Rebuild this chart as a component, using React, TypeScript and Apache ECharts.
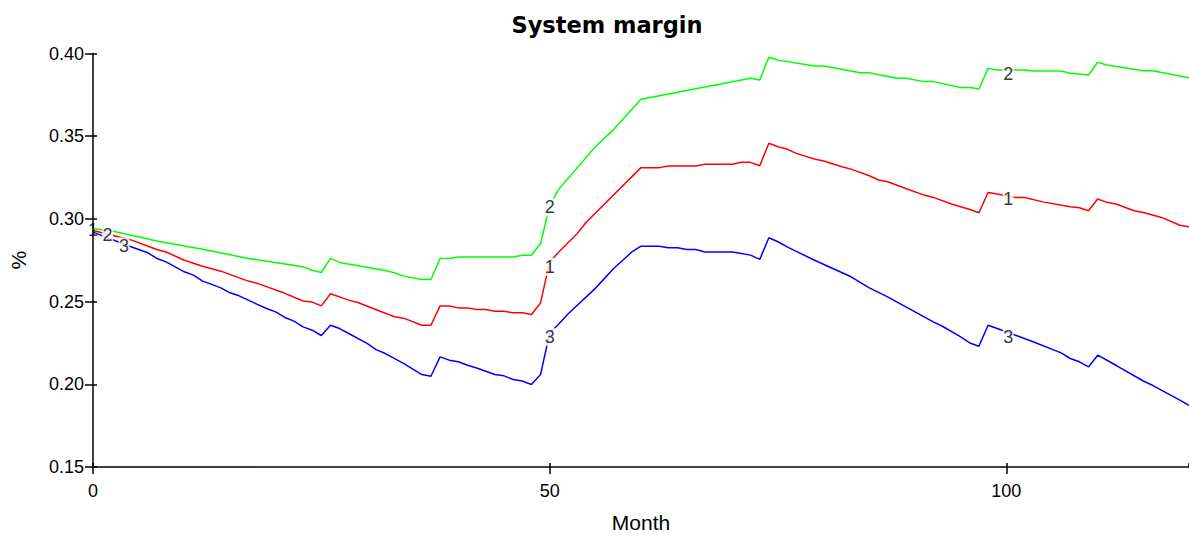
import React, { useEffect, useRef } from "react";
import * as echarts from "echarts";

// Series 1 (red): [month, value]
const series1: [number, number][] = [
  [0, 0.293], [4, 0.2876], [7, 0.2815], [8, 0.28], [10, 0.275], [12, 0.2714], [14, 0.2684],
  [17, 0.2624], [18, 0.261], [21, 0.255], [23, 0.2504], [24, 0.2497], [25, 0.2474], [26, 0.2547],
  [28, 0.2509], [29, 0.2495], [32, 0.243], [33, 0.2408], [34, 0.24], [36, 0.2357], [37, 0.2357],
  [38, 0.2474], [39, 0.2474], [40, 0.2462], [41, 0.2462], [42, 0.2452], [43, 0.2452], [44, 0.2442],
  [45, 0.2442], [46, 0.2432], [47, 0.2432], [48, 0.2422], [49, 0.2492], [50, 0.274], [51, 0.28],
  [53, 0.291], [54, 0.298], [60, 0.331], [62, 0.331], [63, 0.332], [66, 0.332], [67, 0.333],
  [70, 0.333], [71, 0.3342], [72, 0.3342], [73, 0.3321], [74, 0.3457], [75, 0.3436], [76, 0.3422],
  [77, 0.3396], [79, 0.3362], [80, 0.335], [82, 0.3315], [83, 0.3301], [85, 0.3261], [86, 0.3235],
  [87, 0.3225], [89, 0.3184], [91, 0.3144], [92, 0.313], [94, 0.309], [96, 0.3057], [97, 0.3037],
  [98, 0.316], [99, 0.315], [101, 0.313], [102, 0.313], [104, 0.3103], [107, 0.3073], [108, 0.3067],
  [109, 0.3049], [110, 0.312], [111, 0.31], [112, 0.309], [114, 0.3049], [115, 0.3039], [117, 0.3009],
  [119, 0.2962], [120, 0.2952],
];

// Series 2 (green)
const series2: [number, number][] = [
  [0, 0.294], [2, 0.2928], [7, 0.2867], [12, 0.2817], [17, 0.2761], [23, 0.271], [24, 0.269],
  [25, 0.2676], [26, 0.2761], [27, 0.2737], [32, 0.2688], [33, 0.2674], [34, 0.2654], [36, 0.2634],
  [37, 0.2634], [38, 0.2761], [39, 0.2761], [40, 0.277], [46, 0.277], [47, 0.278], [48, 0.278],
  [49, 0.285], [50, 0.308], [51, 0.318], [55, 0.3436], [57, 0.354], [60, 0.3723], [72, 0.385],
  [73, 0.384], [74, 0.3977], [75, 0.396], [79, 0.3924], [80, 0.3924], [84, 0.3884], [85, 0.3884],
  [88, 0.385], [89, 0.385], [91, 0.383], [92, 0.383], [95, 0.3795], [96, 0.3795], [97, 0.3785],
  [98, 0.391], [99, 0.39], [101, 0.39], [102, 0.39], [103, 0.3894], [106, 0.3894], [107, 0.388],
  [109, 0.387], [110, 0.3947], [111, 0.393], [115, 0.3896], [116, 0.3896], [120, 0.3854],
];

// Series 3 (blue)
const series3: [number, number][] = [
  [0, 0.292], [4, 0.2835], [6, 0.2795], [7, 0.2761], [8, 0.274], [10, 0.268], [11, 0.266],
  [12, 0.2624], [13, 0.2604], [14, 0.2583], [15, 0.2553], [16, 0.2535], [17, 0.2509], [18, 0.2483],
  [19, 0.2458], [20, 0.2438], [21, 0.2404], [22, 0.2382], [23, 0.2347], [24, 0.2327], [25, 0.2295],
  [26, 0.2357], [27, 0.2337], [28, 0.2307], [30, 0.2247], [31, 0.221], [32, 0.2186], [34, 0.2126],
  [36, 0.2059], [37, 0.2049], [38, 0.2166], [39, 0.2146], [40, 0.2136], [41, 0.2115], [42, 0.2099],
  [43, 0.2079], [44, 0.2059], [45, 0.2051], [46, 0.2029], [47, 0.202], [48, 0.1999], [49, 0.2059],
  [50, 0.231], [51, 0.2365], [52, 0.2425], [55, 0.258], [57, 0.27], [58, 0.275], [59, 0.28],
  [60, 0.2835], [62, 0.2835], [63, 0.2825], [64, 0.2825], [65, 0.2815], [66, 0.2815], [67, 0.28],
  [70, 0.28], [71, 0.2791], [72, 0.2781], [73, 0.2755], [74, 0.2886], [75, 0.2862], [76, 0.2831],
  [79, 0.275], [81, 0.27], [83, 0.265], [85, 0.2583], [87, 0.2529], [89, 0.2468], [90, 0.2438],
  [92, 0.2377], [93, 0.2351], [95, 0.2287], [96, 0.225], [97, 0.223], [98, 0.2357], [99, 0.2337],
  [101, 0.2297], [103, 0.2256], [106, 0.219], [107, 0.2156], [108, 0.2136], [109, 0.2105],
  [110, 0.2176], [112, 0.2115], [115, 0.202], [116, 0.1994], [119, 0.1904], [120, 0.1873],
];

// Inline line labels: [month, value, text]
const lineLabels: [number, number, string][] = [
  [0, 0.2935, "1"], [1.6, 0.2905, "2"], [3.4, 0.2835, "3"],
  [50, 0.307, "2"], [50, 0.271, "1"], [50, 0.2287, "3"],
  [100.2, 0.3876, "2"], [100.2, 0.3118, "1"], [100.2, 0.2287, "3"],
];

const yTicks = [0.15, 0.2, 0.25, 0.3, 0.35, 0.4];
const xTicks = [0, 50, 100];

const FONT = "'Liberation Sans', Arial, sans-serif";

export default function App() {
  const ref = useRef<HTMLDivElement>(null);
  useEffect(() => {
    document.body.style.margin = "0";
    const chart = echarts.init(ref.current!, null, { renderer: "svg" });
    const lineStyle = (c: string) => ({ color: c, width: 1.5 });
    chart.setOption({
      animation: false,
      backgroundColor: "#fff",
      title: {
        text: "System margin",
        left: 602,
        textAlign: "center",
        top: 8,
        textStyle: { fontFamily: "'DejaVu Sans', Verdana, sans-serif", fontWeight: "bold", fontSize: 22.5, color: "#000" },
      },
      grid: { left: 91, right: 0, top: 53.5, bottom: 72 },
      xAxis: [
        {
          type: "value",
          min: 0,
          max: 120,
          interval: 50,
          name: "Month",
          nameLocation: "middle",
          nameGap: 45,
          nameTextStyle: { fontFamily: FONT, fontSize: 21, color: "#000" },
          axisLine: { lineStyle: { color: "#000", width: 1.5 } },
          axisTick: { show: true, length: 7, lineStyle: { color: "#000", width: 1.5 },
            customValues: xTicks },
          axisLabel: { fontFamily: FONT, fontSize: 18, color: "#000", margin: 15,
            customValues: xTicks },
          splitLine: { show: false },
        },
        {
          type: "value",
          min: 0,
          max: 120,
          interval: 50,
          position: "bottom",
          axisLine: { show: false },
          axisTick: { show: true, inside: true, length: 4, lineStyle: { color: "#000", width: 1.5 } },
          axisLabel: { show: false },
          splitLine: { show: false },
        },
      ],
      yAxis: [
        {
          type: "value",
          min: 0.15,
          max: 0.4,
          interval: 0.05,
          name: "%",
          nameLocation: "middle",
          nameGap: 64,
          nameRotate: 90,
          nameTextStyle: { fontFamily: FONT, fontSize: 21, color: "#000" },
          axisLine: { show: true, lineStyle: { color: "#000", width: 1.5 } },
          axisTick: { show: true, length: 8, lineStyle: { color: "#000", width: 1.5 } },
          axisLabel: { fontFamily: FONT, fontSize: 18, color: "#000", margin: 9,
            formatter: (v: number) => v.toFixed(2), customValues: yTicks },
          splitLine: { show: false },
        },
        {
          type: "value",
          min: 0.15,
          max: 0.4,
          interval: 0.05,
          position: "left",
          axisLine: { show: false },
          axisTick: { show: true, inside: true, length: 4, lineStyle: { color: "#000", width: 1.5 } },
          axisLabel: { show: false },
          splitLine: { show: false },
        },
      ],
      series: [
        { name: "1", type: "line", data: series1, showSymbol: false, symbol: "none", lineStyle: lineStyle("#ff0000"), z: 3 },
        { name: "2", type: "line", data: series2, showSymbol: false, symbol: "none", lineStyle: lineStyle("#00ff00"), z: 3 },
        { name: "3", type: "line", data: series3, showSymbol: false, symbol: "none", lineStyle: lineStyle("#0000ff"), z: 3 },
        {
          name: "labels",
          type: "scatter",
          clip: false,
          data: lineLabels.map((d, i) => ({
            value: [d[0], d[1]],
            name: d[2],
            itemStyle: { color: i === 0 ? "rgba(255,255,255,0)" : "#fff" },
          })),
          symbol: "rect",
          symbolSize: [11, 18],
          label: { show: true, position: "inside", formatter: "{b}", fontFamily: FONT, fontSize: 18, color: "#000" },
          z: 5,
          silent: true,
        },
      ],
    });
    return () => chart.dispose();
  }, []);
  return <div ref={ref} style={{ width: 1189, height: 539 }} />;
}
